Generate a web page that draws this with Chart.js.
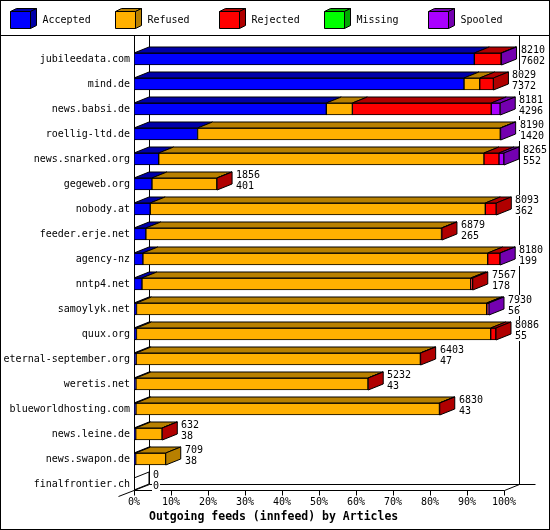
<!DOCTYPE html>
<html>
<head>
<meta charset="utf-8">
<title>Outgoing feeds (innfeed) by Articles</title>
<script src="https://cdn.jsdelivr.net/npm/chart.js@4.4.1/dist/chart.umd.min.js"></script>
<style>
  html, body { margin: 0; padding: 0; background: #fff; }
  canvas { display: block; }
</style>
</head>
<body>
<canvas id="feeds" width="550" height="530"></canvas>
<script>
// ============================================
// innfeed report — articles per peer
// ============================================

const hosts = [
    'jubileedata.com', 'mind.de', 'news.babsi.de', 'roellig-ltd.de', 'news.snarked.org',
    'gegeweb.org', 'nobody.at', 'feeder.erje.net', 'agency-nz', 'nntp4.net',
    'samoylyk.net', 'quux.org', 'eternal-september.org', 'weretis.net',
    'blueworldhosting.com', 'news.leine.de', 'news.swapon.de', 'finalfrontier.ch',
];
const totals   = [8210, 8029, 8181, 8190, 8265, 1856, 8093, 6879, 8180, 7567, 7930, 8086, 6403, 5232, 6830, 632, 709, 0];
const accepted = [7602, 7372, 4296, 1420, 552, 401, 362, 265, 199, 178, 56, 55, 47, 43, 43, 38, 38, 0];
const refused  = [0, 351, 582, 6762, 7265, 1450, 7485, 6604, 7702, 7343, 7822, 7913, 6350, 5185, 6780, 590, 671, 0];
const rejected = [597, 306, 3102, 0, 336, 5, 246, 10, 275, 46, 20, 118, 6, 4, 7, 4, 0, 0];
const missing  = [0, 0, 0, 0, 0, 0, 0, 0, 0, 0, 0, 0, 0, 0, 0, 0, 0, 0];
const spooled  = [11, 0, 201, 8, 112, 0, 0, 0, 4, 0, 32, 0, 0, 0, 0, 0, 0, 0];

const seriesNames = ['Accepted', 'Refused', 'Rejected', 'Missing', 'Spooled'];
const seriesValues = [accepted, refused, rejected, missing, spooled];
const tickPercents = [0, 10, 20, 30, 40, 50, 60, 70, 80, 90, 100];

const frontColors = ['#0000ff', '#ffb000', '#ff0000', '#00ff00', '#aa00ff'];
const sideColors  = ['#0000a8', '#b88000', '#b00000', '#00a800', '#7400b0'];

const FONT = "'DejaVu Sans Mono', monospace";
const DX = 15, DY = -6;      // depth of the fake 3d boxes
const BAR = 12;
const TOP = 35.5;            // line under the legend

const maxTotal = Math.max(...totals);

// Helpers
function path(ctx, pts) {
    ctx.beginPath();
    pts.forEach(([px, py], i) => (i ? ctx.lineTo(px, py) : ctx.moveTo(px, py)));
}

function line(ctx, pts) {
    path(ctx, pts);
    ctx.stroke();
}

function face(ctx, pts, color) {
    path(ctx, pts);
    ctx.closePath();
    ctx.fillStyle = color;
    ctx.fill();
    ctx.stroke();
}

function label(ctx, text, x, y) {
    const w = ctx.measureText(text).width;
    ctx.fillStyle = '#fff';
    ctx.fillRect(x - 1, y - 5, w + 2, 10);
    ctx.fillStyle = '#000';
    ctx.fillText(text, x, y);
}

const box3d = {
    id: 'box3d',
    beforeDraw(chart) {
        const { ctx, width, height } = chart;
        ctx.save();
        ctx.fillStyle = '#fff';
        ctx.fillRect(0, 0, width, height);
        ctx.restore();
    },
    // walls, floor and tick marks sit behind the bars
    beforeDatasetsDraw(chart) {
        const { ctx, scales: { x, y } } = chart;
        const x0 = x.getPixelForValue(0) + 0.5;
        const x1 = x.getPixelForValue(maxTotal) + 0.5;
        const floor = y.getPixelForValue(hosts.length - 1) + BAR / 2 + 0.5;
        ctx.save();
        ctx.strokeStyle = '#000';
        ctx.lineWidth = 1;
        line(ctx, [[x0, TOP], [x0, floor], [x1, floor], [x1 + DX, floor + DY]]);
        line(ctx, [[x0 + DX, TOP], [x0 + DX, floor + DY], [x1 + DX + 16, floor + DY]]);
        line(ctx, [[x1 + DX, TOP], [x1 + DX, floor + DY]]);
        line(ctx, [[x0 - DX - 1, floor - DY], [x0 + DX, floor + DY]]);
        x.ticks.forEach(t => {
            const p = Math.round(x.getPixelForValue(t.value)) + 0.5;
            line(ctx, [[p, floor], [p, floor + 5]]);
        });
        ctx.restore();
    },
    // top and end faces, then the count labels
    afterDatasetsDraw(chart) {
        const { ctx, scales: { x } } = chart;
        ctx.save();
        ctx.strokeStyle = '#000';
        ctx.lineWidth = 1;
        ctx.font = `10px ${FONT}`;
        ctx.textBaseline = 'middle';
        hosts.forEach((host, i) => {
            let last = null;
            seriesValues.forEach((vals, d) => {
                const bar = chart.getDatasetMeta(d).data[i];
                const { x: end, base, y, height } = bar.getProps(['x', 'base', 'y', 'height'], true);
                const top = y - height / 2;
                if (vals[i] > 0) {
                    face(ctx, [[base, top], [end, top], [end + DX, top + DY], [base + DX, top + DY]], sideColors[d]);
                    last = { end, top, bottom: y + height / 2, d };
                }
            });
            if (last) {
                const { end, top, bottom, d } = last;
                face(ctx, [[end, top], [end + DX, top + DY], [end + DX, bottom + DY], [end, bottom]], sideColors[d]);
            } else {
                const bar = chart.getDatasetMeta(0).data[i];
                const { base, y, height } = bar.getProps(['base', 'y', 'height'], true);
                const top = y - height / 2;
                line(ctx, [[base, top], [base + DX, top + DY], [base + DX, y + height / 2 + DY], [base, y + height / 2]]);
            }
            const bar = chart.getDatasetMeta(0).data[i];
            const top = bar.getProps(['y', 'height'], true);
            const ty = top.y - top.height / 2;
            const lx = Math.round(x.getPixelForValue(totals[i]) + DX + 4);
            label(ctx, String(totals[i]), lx, ty - 3);
            label(ctx, String(accepted[i]), lx, ty + 8);
        });
        ctx.restore();
    },
    // legend strip, axis title and outer frame
    afterDraw(chart) {
        const { ctx, width, height, scales: { x } } = chart;
        ctx.save();
        ctx.strokeStyle = '#000';
        ctx.lineWidth = 1;
        ctx.font = `10px ${FONT}`;
        ctx.textBaseline = 'middle';
        seriesNames.forEach((name, d) => {
            const lx = Math.round(10 + d * 104.5) + 0.5;
            const ly = 11.5;
            face(ctx, [[lx, ly], [lx + 6, ly - 3], [lx + 26, ly - 3], [lx + 20, ly]], sideColors[d]);
            face(ctx, [[lx + 20, ly], [lx + 26, ly - 3], [lx + 26, ly + 14], [lx + 20, ly + 17]], sideColors[d]);
            face(ctx, [[lx, ly], [lx + 20, ly], [lx + 20, ly + 17], [lx, ly + 17]], frontColors[d]);
            ctx.fillStyle = '#000';
            ctx.fillText(name, lx + 32, 20);
        });
        line(ctx, [[0, TOP], [width, TOP]]);

        ctx.font = `bold 11.5px ${FONT}`;
        ctx.fillStyle = '#000';
        ctx.fillText('Outgoing feeds (innfeed) by Articles', x.getPixelForValue(0) + DX, 517);

        ctx.strokeRect(0.5, 0.5, width - 1, height - 1);
        ctx.restore();
    },
};

const datasets = seriesNames.map((name, d) => ({
    label: name,
    data: seriesValues[d],
    backgroundColor: frontColors[d],
    borderColor: '#000',
    borderWidth: 1,
    borderSkipped: false,
    barThickness: BAR,
    stack: 'feeds',
}));

new Chart(document.getElementById('feeds'), {
    type: 'bar',
    data: { labels: hosts, datasets },
    options: {
        indexAxis: 'y',
        responsive: false,
        devicePixelRatio: 1,
        animation: false,
        layout: { padding: { top: 46.5, right: 46, bottom: 0, left: 0 } },
        plugins: {
            legend: { display: false },
            tooltip: { enabled: false },
        },
        scales: {
            x: {
                stacked: true,
                min: 0,
                max: maxTotal,
                grid: { display: false, drawTicks: false },
                border: { display: false },
                afterBuildTicks: scale => {
                    scale.ticks = tickPercents.map(p => ({ value: maxTotal * p / 100 }));
                },
                afterFit: scale => { scale.height = 33.5; },
                ticks: {
                    autoSkip: false,
                    maxRotation: 0,
                    padding: 0,
                    color: '#000',
                    font: { family: FONT, size: 10 },
                    callback: (value, index) => tickPercents[index] + '%',
                },
            },
            y: {
                stacked: true,
                grid: { display: false, drawTicks: false },
                border: { display: false },
                afterFit: scale => { scale.width = 134; },
                ticks: {
                    autoSkip: false,
                    padding: 4,
                    color: '#000',
                    font: { family: FONT, size: 10 },
                },
            },
        },
    },
    plugins: [box3d],
});
</script>
</body>
</html>
